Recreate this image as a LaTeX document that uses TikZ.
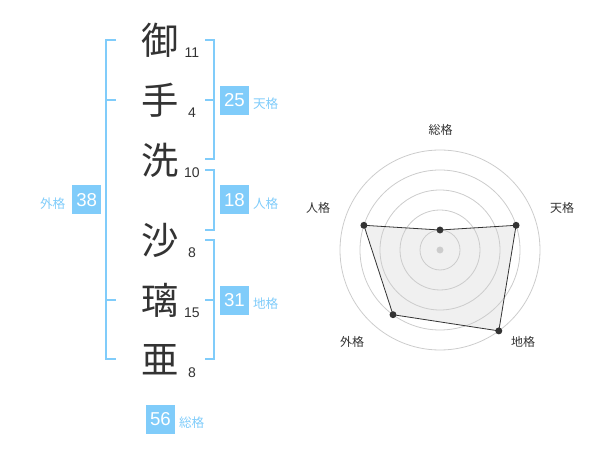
\documentclass[tikz,border=0pt]{standalone}
\usepackage{fontspec}
\setmainfont{Liberation Sans}
\newfontfamily\cjk{Noto Sans CJK JP}
\usetikzlibrary{positioning}
\definecolor{kakublue}{RGB}{128,204,250}
\definecolor{ink}{RGB}{51,51,51}
\definecolor{ring}{RGB}{204,204,204}

\begin{document}
\begin{tikzpicture}[x=0.75pt, y=-0.75pt,
	kanji/.style={inner sep=0, text=ink, font=\cjk\fontsize{28}{28}\selectfont},
	strokes/.style={inner sep=0, text=ink, font=\fontsize{10.5}{10.5}\selectfont},
	total/.style={inner sep=0, minimum size=21.75pt, fill=kakublue, text=white, font=\fontsize{14}{14}\selectfont},
	kaku/.style={inner sep=0, text=kakublue, font=\cjk\fontsize{9.5}{9.5}\selectfont},
	axislabel/.style={inner sep=0, text=ink, font=\cjk\fontsize{9}{9}\selectfont},
	bracket/.style={draw=kakublue, line width=1.4pt},
	dot/.style={circle, fill=ink, inner sep=0, minimum size=5.2pt}]
				\useasboundingbox (0,0) rectangle (600,470);
				
				% name and stroke counts
				\node[kanji] (c1) at (160,40) {御};
				\node[kanji] (c2) at (160,100) {手};
				\node[kanji] (c3) at (160,160) {洗};
				\node[kanji] (c4) at (160,240) {沙};
				\node[kanji] (c5) at (160,300) {璃};
				\node[kanji] (c6) at (160,360) {亜};
				\node[strokes] (n1) at (192,52.7) {11};
				\node[strokes] (n2) at (192,113) {4};
				\node[strokes] (n3) at (192,172.7) {10};
				\node[strokes] (n4) at (192,252.7) {8};
				\node[strokes] (n5) at (192,312.3) {15};
				\node[strokes] (n6) at (192,372.7) {8};
				
				% brackets
				\draw[bracket] (116,40) -- (106,40) -- (106,359) -- (116,359);
				\draw[bracket] (106,100) -- (116,100);
				\draw[bracket] (106,300) -- (116,300);
				\draw[bracket] (205,40) -- (214,40) -- (214,159) -- (205,159);
				\draw[bracket] (205,100) -- (214,100);
				\draw[bracket] (205,170) -- (214,170) -- (214,230) -- (205,230);
				\draw[bracket] (205,240) -- (214,240) -- (214,359) -- (205,359);
				\draw[bracket] (205,300) -- (214,300);
				
				% totals
				\node[total] (ten) at (234.5,100.5) {25};
				\node[total] (jin) at (234.5,200) {18};
				\node[total] (chi) at (234.5,300.5) {31};
				\node[total] (gai) at (86.7,200) {38};
				\node[total] (sou) at (160.5,419) {56};
				\node[kaku] at (265.7,104) {天格};
				\node[kaku] at (265.7,203.5) {人格};
				\node[kaku] at (265.7,304) {地格};
				\node[kaku] at (52.7,203.5) {外格};
				\node[kaku] at (191.7,422.5) {総格};
				
				% radar
				\coordinate (r0) at (440,250);
				\coordinate (rsou) at (440,230);
				\coordinate (rten) at (516.1,225.3);
				\coordinate (rchi) at (498.8,330.9);
				\coordinate (rgai) at (393,314.7);
				\coordinate (rjin) at (363.9,225.3);
				\fill[black!6] (rsou) -- (rten) -- (rchi) -- (rgai) -- (rjin) -- cycle;
				\draw[ring, line width=0.6pt] (r0) circle (20) circle (40) circle (60) circle (80) circle (100);
				\node[dot, fill=ring] (mid) at (r0) {};
				\draw[ink, line width=0.6pt] (rsou) -- (rten) -- (rchi) -- (rgai) -- (rjin) -- cycle;
				\node[dot] (dsou) at (rsou) {};
				\node[dot] (dten) at (rten) {};
				\node[dot] (dchi) at (rchi) {};
				\node[dot] (dgai) at (rgai) {};
				\node[dot] (djin) at (rjin) {};
				\node[axislabel] at (440.7,130) {総格};
				\node[axislabel] at (562,208) {天格};
				\node[axislabel] at (523,342) {地格};
				\node[axislabel] at (352,342) {外格};
				\node[axislabel] at (318,208) {人格};
\end{tikzpicture}
\end{document}
